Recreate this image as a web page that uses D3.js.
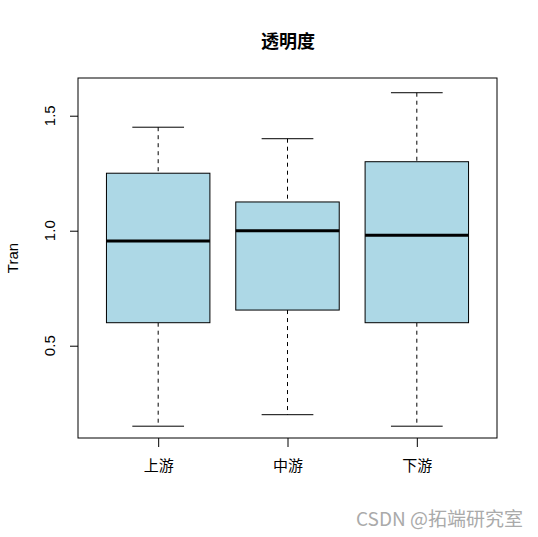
<!DOCTYPE html>
<html><head><meta charset="utf-8">
<script src="https://cdn.jsdelivr.net/npm/d3@7"></script>
<style>body{margin:0;background:#fff}</style>
</head><body>
<script>
const categories = ["上游","中游","下游"];
const lowerWhisker = [0.15, 0.20, 0.15];
const q1 = [0.60, 0.655, 0.60];
const median = [0.955, 1.00, 0.98];
const q3 = [1.25, 1.125, 1.30];
const upperWhisker = [1.45, 1.40, 1.60];
const yTicks = [0.5, 1.0, 1.5];

const W=538,H=537;
const svg=d3.select("body").append("svg").attr("width",W).attr("height",H);
const L=78,R=497,T=78,B=438;
const x=d3.scaleLinear().domain([0.38,3.62]).range([L,R]);
const y=d3.scaleLinear().domain([0.0987,1.664]).range([B,T]);
const font="Liberation Sans, Arial, sans-serif";
const cjk="Noto Sans CJK SC, sans-serif";

svg.append("rect").attr("x",L).attr("y",T).attr("width",R-L).attr("height",B-T)
  .attr("fill","none").attr("stroke","#000").attr("stroke-width",1);

const data=categories.map((c,i)=>({c,i:i+1,lo:lowerWhisker[i],q1:q1[i],md:median[i],q3:q3[i],hi:upperWhisker[i]}));
const bw=(x(2)-x(1))*0.8, cw=bw/2;
const g=svg.append("g");
data.forEach(d=>{
  const cx=x(d.i);
  g.append("line").attr("x1",cx).attr("x2",cx).attr("y1",y(d.hi)).attr("y2",y(d.q3)).attr("stroke","#000").attr("stroke-dasharray","4,4");
  g.append("line").attr("x1",cx).attr("x2",cx).attr("y1",y(d.q1)).attr("y2",y(d.lo)).attr("stroke","#000").attr("stroke-dasharray","4,4");
  g.append("line").attr("x1",cx-cw/2).attr("x2",cx+cw/2).attr("y1",y(d.hi)).attr("y2",y(d.hi)).attr("stroke","#000");
  g.append("line").attr("x1",cx-cw/2).attr("x2",cx+cw/2).attr("y1",y(d.lo)).attr("y2",y(d.lo)).attr("stroke","#000");
  g.append("rect").attr("x",cx-bw/2).attr("y",y(d.q3)).attr("width",bw).attr("height",y(d.q1)-y(d.q3))
    .attr("fill","#add8e6").attr("stroke","#000").attr("stroke-width",1);
  g.append("line").attr("x1",cx-bw/2).attr("x2",cx+bw/2).attr("y1",y(d.md)).attr("y2",y(d.md)).attr("stroke","#000").attr("stroke-width",3);
});

// y axis
const ya=svg.append("g").attr("transform",`translate(${L},0)`)
  .call(d3.axisLeft(y).tickValues(yTicks).tickSize(8));
ya.select(".domain").remove();
ya.selectAll("text").remove();
yTicks.forEach(v=>{
  svg.append("text").attr("transform",`translate(55,${y(v)}) rotate(-90)`).attr("text-anchor","middle")
    .attr("font-family",font).attr("font-size",15).text(d3.format(".1f")(v));
});
// x axis
const xa=svg.append("g").attr("transform",`translate(0,${B})`)
  .call(d3.axisBottom(x).tickValues([1,2,3]).tickFormat(d=>categories[d-1]).tickSize(9).tickPadding(13));
xa.select(".domain").remove();
xa.selectAll("text").attr("font-family",cjk).attr("font-size",15).attr("fill","#000");

svg.append("text").attr("transform",`translate(18,258) rotate(-90)`).attr("text-anchor","middle")
  .attr("font-family",font).attr("font-size",15).text("Tran");
svg.append("text").attr("x",288).attr("y",48).attr("text-anchor","middle")
  .attr("font-family",cjk).attr("font-weight","bold").attr("font-size",18).text("透明度");
svg.append("text").attr("x",523).attr("y",526).attr("text-anchor","end")
  .attr("font-family",cjk).attr("font-size",19).attr("fill","#aaa").text("CSDN @拓端研究室");
</script>
</body></html>
